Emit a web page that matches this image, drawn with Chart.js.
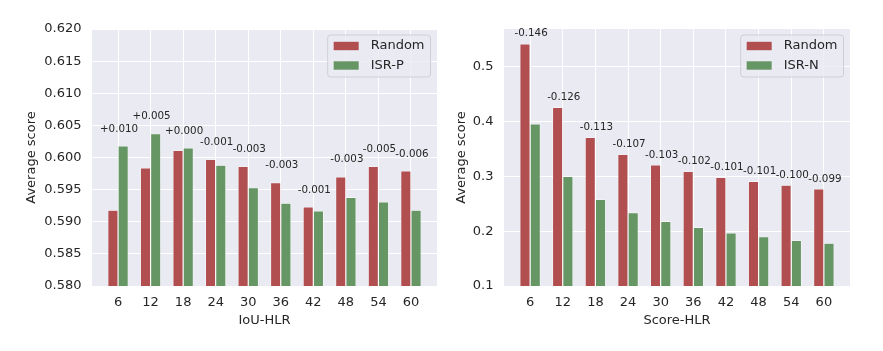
<!DOCTYPE html>
<html>
<head>
<meta charset="utf-8">
<script src="https://cdn.jsdelivr.net/npm/chart.js@4.4.0/dist/chart.umd.min.js"></script>
<style>
  html, body { margin: 0; padding: 0; background: #fff; }
  #wrap { position: relative; width: 883px; height: 351px; }
  .panel { position: absolute; top: 0; height: 351px; }
  #left { left: 0; width: 441px; }
  #right { left: 441px; width: 442px; }
</style>
</head>
<body>
<div id="wrap">
  <div class="panel" id="left"><canvas id="iouChart"></canvas></div>
  <div class="panel" id="right"><canvas id="scoreChart"></canvas></div>
</div>
<script>
// values
const categories = ['6', '12', '18', '24', '30', '36', '42', '48', '54', '60'];

const iouRandom = [0.5918, 0.5984, 0.6011, 0.5997, 0.5986, 0.5961, 0.5923, 0.5970, 0.5986, 0.5979];
const iouIsrP   = [0.6018, 0.6037, 0.6015, 0.5988, 0.5953, 0.5929, 0.5917, 0.5938, 0.5931, 0.5918];
const iouDiffLabels = ['+0.010', '+0.005', '+0.000', '-0.001', '-0.003', '-0.003', '-0.001', '-0.003', '-0.005', '-0.006'];
const iouTicks = [0.580, 0.585, 0.590, 0.595, 0.600, 0.605, 0.610, 0.615, 0.620];

const scoreRandom = [0.542, 0.426, 0.371, 0.340, 0.321, 0.309, 0.298, 0.291, 0.284, 0.277];
const scoreIsrN   = [0.396, 0.300, 0.258, 0.234, 0.218, 0.207, 0.197, 0.190, 0.183, 0.178];
const scoreDiffLabels = ['-0.146', '-0.126', '-0.113', '-0.107', '-0.103', '-0.102', '-0.101', '-0.101', '-0.100', '-0.099'];
const scoreTicks = [0.1, 0.2, 0.3, 0.4, 0.5];

const RED = '#b14e4f';
const GREEN = '#659664';
const BG = '#eaeaf2';
const TEXT = '#262626';
const FONT = '"DejaVu Sans", sans-serif';

const areaBg = {
  id: 'areaBg',
  beforeDraw(chart) {
    const { ctx, chartArea: a } = chart;
    ctx.save();
    ctx.fillStyle = BG;
    ctx.fillRect(a.left, a.top, a.right - a.left, a.bottom - a.top);
    ctx.restore();
  }
};

const diffLabels = {
  id: 'diffLabels',
  afterDatasetsDraw(chart, args, opts) {
    const { ctx, scales: { x, y } } = chart;
    const a = chart.data.datasets[0].data, b = chart.data.datasets[1].data;
    ctx.save();
    ctx.font = '10.3px ' + FONT;
    ctx.fillStyle = TEXT;
    ctx.textAlign = 'center';
    ctx.textBaseline = 'middle';
    opts.labels.forEach((t, i) => {
      const top = y.getPixelForValue(Math.max(a[i], b[i]));
      ctx.fillText(t, x.getPixelForValue(i) + opts.dx, top - opts.offset);
    });
    ctx.restore();
  }
};

const boxLegend = {
  id: 'boxLegend',
  afterDraw(chart) {
    const { ctx, chartArea: a } = chart;
    const items = chart.data.datasets;
    ctx.save();
    ctx.font = '13px ' + FONT;
    ctx.textAlign = 'left';
    ctx.textBaseline = 'middle';
    const tw = Math.max(...items.map(d => ctx.measureText(d.label).width));
    const w = 6 + 25 + 12 + tw + 6, h = 42;
    const x0 = a.right - 6.5 - w, y0 = a.top + 6;
    ctx.beginPath();
    ctx.roundRect(x0, y0, w, h, 3);
    ctx.fillStyle = 'rgba(234,234,242,0.8)';
    ctx.fill();
    ctx.strokeStyle = '#cfcfd6';
    ctx.lineWidth = 1;
    ctx.stroke();
    items.forEach((d, i) => {
      const cy = y0 + 11 + i * 19.5;
      ctx.fillStyle = d.backgroundColor;
      ctx.fillRect(x0 + 6, cy - 4.2, 25, 8.4);
      ctx.fillStyle = TEXT;
      ctx.fillText(d.label, x0 + 43, cy);
    });
    ctx.restore();
  }
};

function makeChart(id, cfg) {
  return new Chart(document.getElementById(id), {
    type: 'bar',
    data: {
      labels: categories.map((_, i) => i),
      datasets: [
        { label: 'Random', data: cfg.a, backgroundColor: RED, borderColor: '#ffffff', borderWidth: 0.6 },
        { label: cfg.name, data: cfg.b, backgroundColor: GREEN, borderColor: '#ffffff', borderWidth: 0.6 }
      ]
    },
    options: {
      responsive: true,
      maintainAspectRatio: false,
      devicePixelRatio: 1,
      animation: false,
      barPercentage: 1,
      categoryPercentage: 0.63,
      layout: { padding: { left: 0, right: cfg.padRight, top: 29, bottom: 0 } },
      scales: {
        x: {
          type: 'linear',
          offset: false,
          min: -0.8,
          max: 9.8,
          afterBuildTicks: s => { s.ticks = categories.map((_, i) => ({ value: i })); },
          afterFit: s => { s.height = 65; },
          grid: { color: '#ffffff', lineWidth: 1, drawTicks: false, offset: false },
          border: { display: false },
          ticks: {
            padding: 9,
            color: TEXT,
            font: { family: FONT, size: 13 },
            callback: v => categories[v]
          },
          title: {
            display: true,
            text: cfg.xTitle,
            color: TEXT,
            font: { family: FONT, size: 13 },
            padding: { top: 0, bottom: 23 }
          }
        },
        y: {
          min: cfg.yMin,
          max: cfg.yMax,
          afterBuildTicks: s => { s.ticks = cfg.ticks.map(v => ({ value: v })); },
          afterFit: s => { s.width = cfg.yWidth; },
          grid: { color: '#ffffff', lineWidth: 1, drawTicks: false },
          border: { display: false },
          ticks: {
            padding: 10.5,
            color: TEXT,
            font: { family: FONT, size: 13 },
            callback: v => v.toFixed(cfg.digits)
          },
          title: {
            display: true,
            text: 'Average score',
            color: TEXT,
            font: { family: FONT, size: 13 },
            padding: { top: cfg.yTitlePad, bottom: 0 }
          }
        }
      },
      plugins: {
        legend: { display: false },
        tooltip: { enabled: false },
        diffLabels: { labels: cfg.diff, offset: cfg.labelOffset, dx: 1 }
      }
    },
    plugins: [areaBg, diffLabels, boxLegend]
  });
}

makeChart('iouChart', {
  a: iouRandom, b: iouIsrP, name: 'ISR-P', diff: iouDiffLabels,
  xTitle: 'IoU-HLR', ticks: iouTicks, yMin: 0.580, yMax: 0.620, digits: 3,
  yWidth: 92, padRight: 4, yTitlePad: 24, labelOffset: 17
});

makeChart('scoreChart', {
  a: scoreRandom, b: scoreIsrN, name: 'ISR-N', diff: scoreDiffLabels,
  xTitle: 'Score-HLR', ticks: scoreTicks, yMin: 0.1, yMax: 0.569, digits: 1,
  yWidth: 63, padRight: 33, yTitlePad: 13, labelOffset: 10
});
</script>
</body>
</html>
